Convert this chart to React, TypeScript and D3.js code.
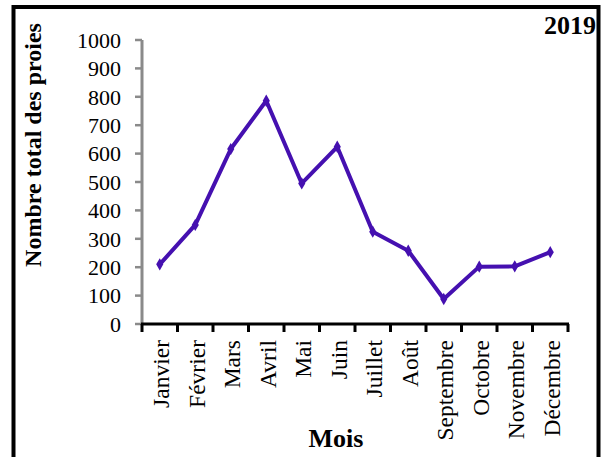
import React from "react";
import * as d3 from "d3";

const months = ["Janvier", "Février", "Mars", "Avril", "Mai", "Juin", "Juillet", "Août", "Septembre", "Octobre", "Novembre", "Décembre"];
const preyCounts = [210, 349, 616, 786, 495, 624, 325, 258, 88, 202, 203, 253];
const yTicks = [0, 100, 200, 300, 400, 500, 600, 700, 800, 900, 1000];
const yTitle = "Nombre total des proies";
const xTitle = "Mois";
const yearLabel = "2019";

const W = 603;
const H = 457;
const FONT = "'Liberation Serif', 'Times New Roman', serif";
const LINE = "#4510b0";

export default function App() {
  const x = d3.scaleBand<string>().domain(months).range([142, 568]).padding(0);
  const y = d3.scaleLinear().domain([0, 1000]).range([324, 40]);
  const line = d3
    .line<number>()
    .x((_, i) => (x(months[i]) as number) + x.bandwidth() / 2)
    .y((d) => y(d));
  const diamond = d3.symbol().type(d3.symbolDiamond).size(44)();
  const boundaries = months.map((m) => x(m) as number).concat([568]);

  return (
    <svg width={W} height={H} style={{ position: "absolute", left: 0, top: 0, background: "#fff" }} fontFamily={FONT}>
      <rect x={0} y={0} width={W} height={H} fill="#fff" />
      <rect x={13.5} y={7} width={585} height={460} fill="none" stroke="#000" strokeWidth={4} />
      {/* y axis */}
      <line x1={142} x2={142} y1={y(1000)} y2={y(0)} stroke="#8a8a8a" strokeWidth={3} />
      {yTicks.map((t) => (
        <g key={t}>
          <line x1={135} x2={142} y1={y(t)} y2={y(t)} stroke="#8a8a8a" strokeWidth={2.5} />
          <text x={121} y={y(t)} dy="0.35em" textAnchor="end" fontSize={22} fill="#000">
            {t}
          </text>
        </g>
      ))}
      {/* x axis */}
      <line x1={141} x2={569} y1={y(0)} y2={y(0)} stroke="#000" strokeWidth={3} />
      {boundaries.map((b, i) => (
        <line key={i} x1={b} x2={b} y1={y(0)} y2={y(0) + 8} stroke="#000" strokeWidth={3} />
      ))}
      {months.map((m) => {
        const cx = (x(m) as number) + x.bandwidth() / 2 + 9.5;
        return (
          <text key={m} transform={`translate(${cx},340) rotate(-90)`} textAnchor="end" fontSize={23.5} fill="#000">
            {m}
          </text>
        );
      })}
      {/* line */}
      <path d={line(preyCounts) || ""} fill="none" stroke={LINE} strokeWidth={4} strokeLinejoin="round" />
      {preyCounts.map((v, i) => (
        <path
          key={i}
          d={diamond || ""}
          transform={`translate(${(x(months[i]) as number) + x.bandwidth() / 2},${y(v)})`}
          fill={LINE}
        />
      ))}
      {/* titles */}
      <text transform={`translate(41,145) rotate(-90)`} textAnchor="middle" fontSize={24} fontWeight="bold" fill="#000">
        {yTitle}
      </text>
      <text x={336} y={447} textAnchor="middle" fontSize={26} fontWeight="bold" fill="#000">
        {xTitle}
      </text>
      <text x={596} y={34} textAnchor="end" fontSize={26} fontWeight="bold" fill="#000">
        {yearLabel}
      </text>
    </svg>
  );
}
